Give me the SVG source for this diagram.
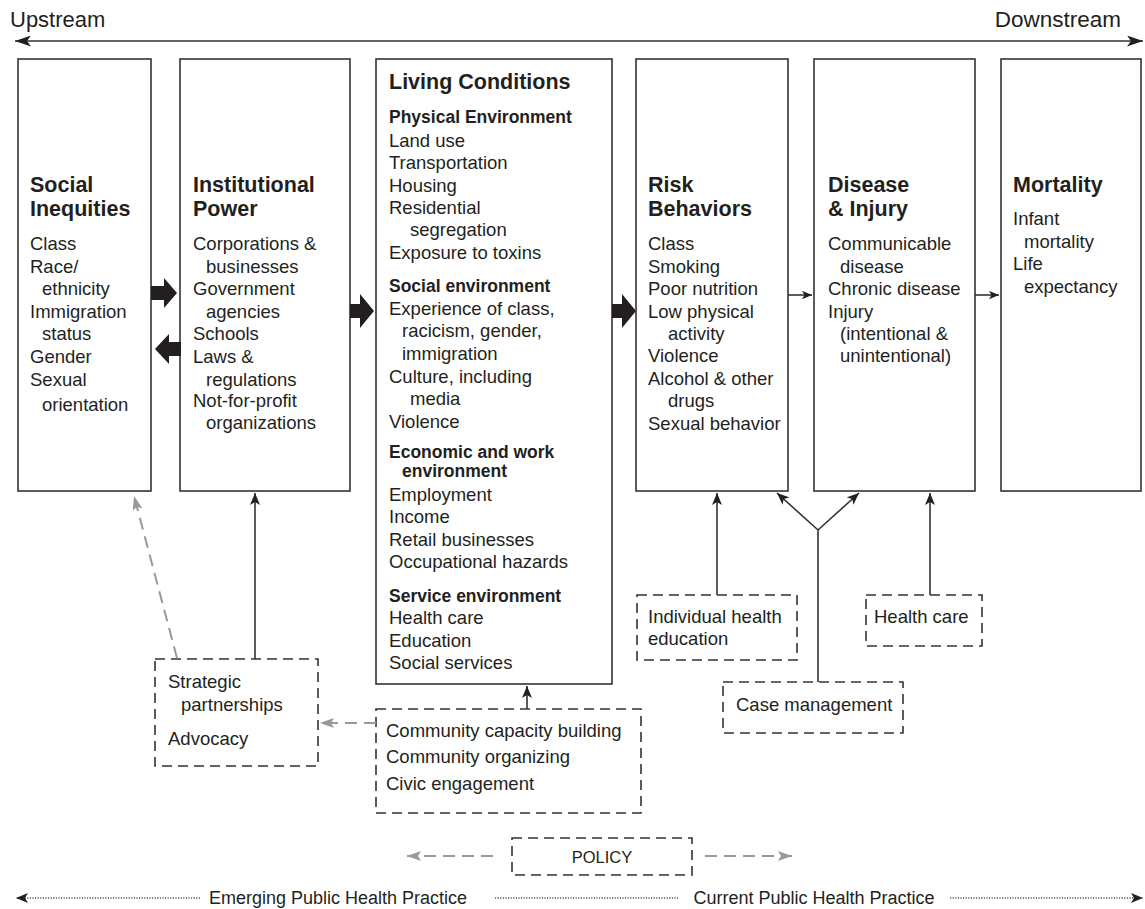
<svg xmlns="http://www.w3.org/2000/svg" width="1145" height="909" viewBox="0 0 1145 909">
<style>
text{font-family:"Liberation Sans",Arial,sans-serif;fill:#231f20;}
.t{font-size:21.5px;font-weight:bold;}
.h{font-size:17.5px;font-weight:bold;}
.i{font-size:18.5px;}
.sm{font-size:18px;}
.box{fill:#fff;stroke:#333;stroke-width:1.6;}
.dbox{fill:#fff;stroke:#333;stroke-width:1.6;stroke-dasharray:10 6;}
.ln{fill:none;stroke:#333;stroke-width:1.6;}
.gl{fill:none;stroke:#999;stroke-width:2;stroke-dasharray:12 7;}
.dot{fill:none;stroke:#555;stroke-width:1.3;stroke-dasharray:1.2 1.4;}
.blk{fill:#231f20;stroke:none;}
</style>
<defs>
<marker id="ah" viewBox="0 0 12 10" markerWidth="12" markerHeight="10" refX="12" refY="5" orient="auto" markerUnits="userSpaceOnUse">
<path d="M0,0 L12,5 L0,10 L3,5 z" fill="#231f20"/>
</marker>
<marker id="ahb" viewBox="0 0 16 11" markerWidth="16" markerHeight="11" refX="16" refY="5.5" orient="auto-start-reverse" markerUnits="userSpaceOnUse">
<path d="M0,0 L16,5.5 L0,11 L4,5.5 z" fill="#231f20"/>
</marker>
<marker id="ahg" viewBox="0 0 14 10" markerWidth="14" markerHeight="10" refX="14" refY="5" orient="auto" markerUnits="userSpaceOnUse">
<path d="M0,0 L14,5 L0,10 L3,5 z" fill="#999"/>
</marker>
<marker id="ahs" viewBox="0 0 12 10" markerWidth="10" markerHeight="9" refX="12" refY="5" orient="auto" markerUnits="userSpaceOnUse">
<path d="M0,0 L12,5 L0,10 L3,5 z" fill="#231f20"/>
</marker>
<marker id="ahd" viewBox="0 0 12 10" markerWidth="12" markerHeight="11" refX="12" refY="5" orient="auto" markerUnits="userSpaceOnUse">
<path d="M0,0 L12,5 L0,10 L3,5 z" fill="#231f20"/>
</marker>
</defs>

<g id="header">
<text x="10" y="27" style="font-size:22px">Upstream</text>
<text x="1121" y="27" text-anchor="end" style="font-size:22.5px">Downstream</text>
<line x1="15" y1="41" x2="1143" y2="41" class="ln" marker-start="url(#ahb)" marker-end="url(#ahb)"/>
</g>

<g id="social-inequities">
<rect x="18" y="59" width="133" height="432" class="box"/>
<text class="t" x="30" y="192">Social</text>
<text class="t" x="30" y="216">Inequities</text>
<text class="i" x="30" y="250">Class</text>
<text class="i" x="30" y="273">Race/</text>
<text class="i" x="42" y="295">ethnicity</text>
<text class="i" x="30" y="318">Immigration</text>
<text class="i" x="42" y="340">status</text>
<text class="i" x="30" y="363">Gender</text>
<text class="i" x="30" y="386">Sexual</text>
<text class="i" x="42" y="411">orientation</text>
</g>

<g id="institutional-power">
<rect x="180" y="59" width="170" height="432" class="box"/>
<text class="t" x="193" y="192">Institutional</text>
<text class="t" x="193" y="216">Power</text>
<text class="i" x="193" y="250">Corporations &amp;</text>
<text class="i" x="206" y="273">businesses</text>
<text class="i" x="193" y="295">Government</text>
<text class="i" x="206" y="318">agencies</text>
<text class="i" x="193" y="340">Schools</text>
<text class="i" x="193" y="363">Laws &amp;</text>
<text class="i" x="206" y="386">regulations</text>
<text class="i" x="193" y="407">Not-for-profit</text>
<text class="i" x="206" y="429">organizations</text>
</g>

<g id="living-conditions">
<rect x="376" y="59" width="236" height="625" class="box"/>
<text class="t" x="389" y="89">Living Conditions</text>
<text class="h" x="389" y="123">Physical Environment</text>
<text class="i" x="389" y="147">Land use</text>
<text class="i" x="389" y="169">Transportation</text>
<text class="i" x="389" y="192">Housing</text>
<text class="i" x="389" y="214">Residential</text>
<text class="i" x="410" y="236">segregation</text>
<text class="i" x="389" y="259">Exposure to toxins</text>
<text class="h" x="389" y="292">Social environment</text>
<text class="i" x="389" y="315">Experience of class,</text>
<text class="i" x="402" y="337">racicism, gender,</text>
<text class="i" x="402" y="360">immigration</text>
<text class="i" x="389" y="383">Culture, including</text>
<text class="i" x="410" y="405">media</text>
<text class="i" x="389" y="428">Violence</text>
<text class="h" x="389" y="458">Economic and work</text>
<text class="h" x="402" y="477">environment</text>
<text class="i" x="389" y="501">Employment</text>
<text class="i" x="389" y="523">Income</text>
<text class="i" x="389" y="546">Retail businesses</text>
<text class="i" x="389" y="568">Occupational hazards</text>
<text class="h" x="389" y="602">Service environment</text>
<text class="i" x="389" y="624">Health care</text>
<text class="i" x="389" y="647">Education</text>
<text class="i" x="389" y="669">Social services</text>
</g>

<g id="risk-behaviors">
<rect x="636" y="59" width="152" height="432" class="box"/>
<text class="t" x="648" y="192">Risk</text>
<text class="t" x="648" y="216">Behaviors</text>
<text class="i" x="648" y="250">Class</text>
<text class="i" x="648" y="273">Smoking</text>
<text class="i" x="648" y="295">Poor nutrition</text>
<text class="i" x="648" y="318">Low physical</text>
<text class="i" x="668" y="340">activity</text>
<text class="i" x="648" y="362">Violence</text>
<text class="i" x="648" y="385">Alcohol &amp; other</text>
<text class="i" x="668" y="407">drugs</text>
<text class="i" x="648" y="430">Sexual behavior</text>
</g>

<g id="disease-injury">
<rect x="814" y="59" width="161" height="432" class="box"/>
<text class="t" x="828" y="192">Disease</text>
<text class="t" x="828" y="216">&amp; Injury</text>
<text class="i" x="828" y="250">Communicable</text>
<text class="i" x="840" y="273">disease</text>
<text class="i" x="828" y="295">Chronic disease</text>
<text class="i" x="828" y="318">Injury</text>
<text class="i" x="840" y="340">(intentional &amp;</text>
<text class="i" x="840" y="362">unintentional)</text>
</g>

<g id="mortality">
<rect x="1001" y="59" width="140" height="432" class="box"/>
<text class="t" x="1013" y="192">Mortality</text>
<text class="i" x="1013" y="225">Infant</text>
<text class="i" x="1024" y="248">mortality</text>
<text class="i" x="1013" y="270">Life</text>
<text class="i" x="1024" y="293">expectancy</text>
</g>

<g id="individual-health-education">
<rect x="637" y="595" width="160" height="65" class="dbox"/>
<text class="i" x="648" y="623">Individual health</text>
<text class="i" x="648" y="645">education</text>
</g>

<g id="health-care">
<rect x="866" y="595" width="116" height="51" class="dbox"/>
<text class="i" x="874" y="623">Health care</text>
</g>

<g id="case-management">
<rect x="723" y="682" width="180" height="51" class="dbox"/>
<text class="i" x="736" y="711">Case management</text>
</g>

<g id="strategic-advocacy">
<rect x="155" y="659" width="163" height="107" class="dbox"/>
<text class="i" x="168" y="688">Strategic</text>
<text class="i" x="181" y="711">partnerships</text>
<text class="i" x="168" y="745">Advocacy</text>
</g>

<g id="community">
<rect x="376" y="709" width="265" height="104" class="dbox"/>
<text class="i" x="386" y="737">Community capacity building</text>
<text class="i" x="386" y="763">Community organizing</text>
<text class="i" x="386" y="790">Civic engagement</text>
</g>

<g id="policy">
<rect x="512" y="838" width="180" height="37" class="dbox"/>
<text x="602" y="863" text-anchor="middle" style="font-size:16.5px">POLICY</text>
</g>

<g id="footer">
<text x="338" y="904" text-anchor="middle" class="sm">Emerging Public Health Practice</text>
<text x="814" y="904" text-anchor="middle" class="sm">Current Public Health Practice</text>
</g>

<g id="connectors">
<polygon class="blk" points="151,286 164,286 164,278 177,293 164,308 164,300 151,300"/>
<polygon class="blk" points="181,342 169,342 169,334 155,349 169,364 169,356 181,356"/>
<polygon class="blk" points="350,304 360,304 360,294 374,311 360,328 360,318 350,318"/>
<polygon class="blk" points="612,304 622,304 622,294 636,311 622,328 622,318 612,318"/>
<line x1="788" y1="295" x2="812" y2="295" class="ln" marker-end="url(#ahs)"/>
<line x1="975" y1="295" x2="999" y2="295" class="ln" marker-end="url(#ahs)"/>
<line x1="717" y1="595" x2="717" y2="493" class="ln" marker-end="url(#ah)"/>
<line x1="930" y1="595" x2="930" y2="493" class="ln" marker-end="url(#ah)"/>
<polyline points="818,682 818,530" class="ln"/>
<line x1="818" y1="530" x2="777" y2="493" class="ln" marker-end="url(#ah)"/>
<line x1="818" y1="530" x2="859" y2="493" class="ln" marker-end="url(#ah)"/>
<line x1="255" y1="659" x2="255" y2="493" class="ln" marker-end="url(#ah)"/>
<line x1="527" y1="709" x2="527" y2="686" class="ln" marker-end="url(#ah)"/>
<line x1="177" y1="658" x2="134" y2="496" class="gl" marker-end="url(#ahg)"/>
<line x1="376" y1="723" x2="320" y2="723" class="gl" marker-end="url(#ahg)"/>
<line x1="493" y1="856" x2="407" y2="856" class="gl" marker-end="url(#ahg)"/>
<line x1="705" y1="856" x2="792" y2="856" class="gl" marker-end="url(#ahg)"/>
<line x1="200" y1="898" x2="16" y2="898" class="dot" marker-end="url(#ahd)"/>
<line x1="495" y1="898" x2="678" y2="898" class="dot"/>
<line x1="950" y1="898" x2="1143" y2="898" class="dot" marker-end="url(#ahd)"/>
</g>
</svg>
